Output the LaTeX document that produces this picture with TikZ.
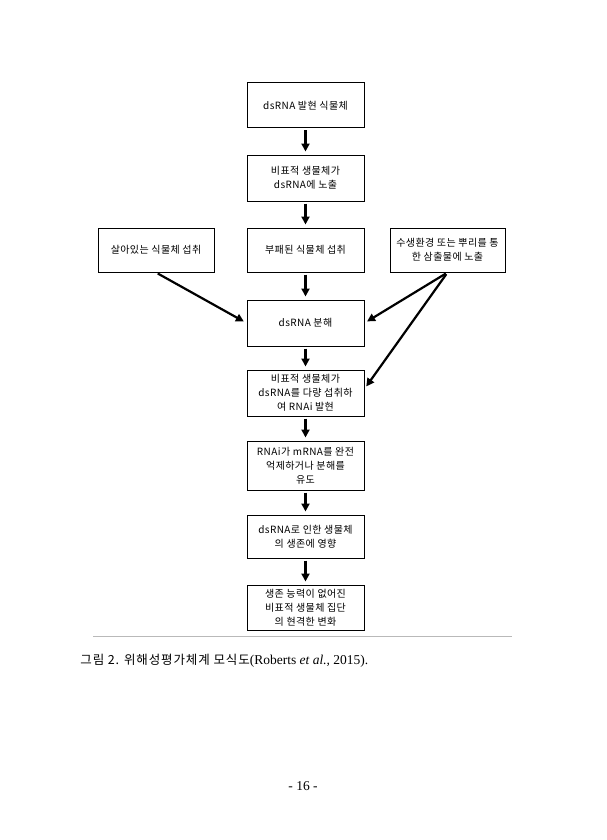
\documentclass[tikz,border=0pt]{standalone}
\usepackage{fontspec}
\setmainfont{Liberation Serif}
\newfontfamily\krfont[LetterSpace=4]{Noto Sans CJK KR}
\newfontfamily\krcap[LetterSpace=7]{Noto Sans CJK KR}
\usetikzlibrary{arrows.meta}

\tikzset{every picture/.style={line width=0.75pt}}
\tikzset{
  stepbox/.style={draw, line width=1pt, minimum width=117pt, minimum height=45pt, inner sep=1pt, align=center, font=\krfont\fontsize{10}{14}\selectfont},
  flowarrow/.style={-{Triangle[length=8pt,width=8pt]}, line width=2.2pt, shorten >=3pt, shorten <=2pt}
}

\begin{document}
\begin{tikzpicture}[x=1pt,y=1pt,yscale=-1,xscale=1]
	\useasboundingbox (0,0) rectangle (607,840);

	%Shape: Rectangle [main column]
	\draw (305.5,105.5) node [stepbox] (plant) {dsRNA 발현 식물체};
	\draw (305.5,178) node [stepbox, minimum height=46pt] (exposed) {비표적 생물체가\\dsRNA에 노출};
	\draw (305.5,250) node [stepbox, minimum height=44pt] (decayed) {부패된 식물체 섭취};
	\draw (305.5,323) node [stepbox, minimum height=46pt] (degrade) {dsRNA 분해};
	\draw (305.5,393) node [stepbox, minimum height=46pt] (uptake) {비표적 생물체가\\dsRNA를 다량 섭취하\\여 RNAi 발현};
	\draw (305.5,465.5) node [stepbox, minimum height=49pt] (silence) {RNAi가 mRNA를 완전\\억제하거나 분해를\\유도};
	\draw (305.5,536.5) node [stepbox, minimum height=43pt] (survival) {dsRNA로 인한 생물체\\의 생존에 영향};
	\draw (305.5,607.5) node [stepbox] (change) {생존 능력이 없어진\\비표적 생물체 집단\\의 현격한 변화};

	%Shape: Rectangle [side boxes]
	\draw (156,250) node [stepbox, minimum width=116pt, minimum height=44pt] (living) {살아있는 식물체 섭취};
	\draw (447.5,250) node [stepbox, minimum width=115pt, minimum height=44pt] (soil) {수생환경 또는 뿌리를 통\\한 삼출물에 노출};

	%Straight Lines
	\draw [flowarrow] (plant) -- (exposed);
	\draw [flowarrow] (exposed) -- (decayed);
	\draw [flowarrow] (decayed) -- (degrade);
	\draw [flowarrow] (degrade) -- (uptake);
	\draw [flowarrow] (uptake) -- (silence);
	\draw [flowarrow] (silence) -- (survival);
	\draw [flowarrow] (survival) -- (change);
	%Straight Lines [diagonals]
	\draw [flowarrow] (living.south) -- (degrade.west);
	\draw [flowarrow] (soil.south) -- (degrade.east);
	\draw [flowarrow] (soil.south) -- (uptake.4);

	%Straight Lines [rule]
	\draw [color=gray!55, line width=0.9pt] (93,636) -- (512,636);

	% Text Node
	\draw (80,661) node [anchor=west, inner sep=0pt, font=\fontsize{13.5}{15}\selectfont] (caption) {{\krcap\fontsize{12.5}{15}\selectfont 그림 2. 위해성평가체계 모식도}(Roberts \textit{et al.,} 2015).};
	% Text Node
	\draw (303,786) node [font=\fontsize{13.5}{15}\selectfont] (pagenum) {- 16 -};

\end{tikzpicture}
\end{document}
